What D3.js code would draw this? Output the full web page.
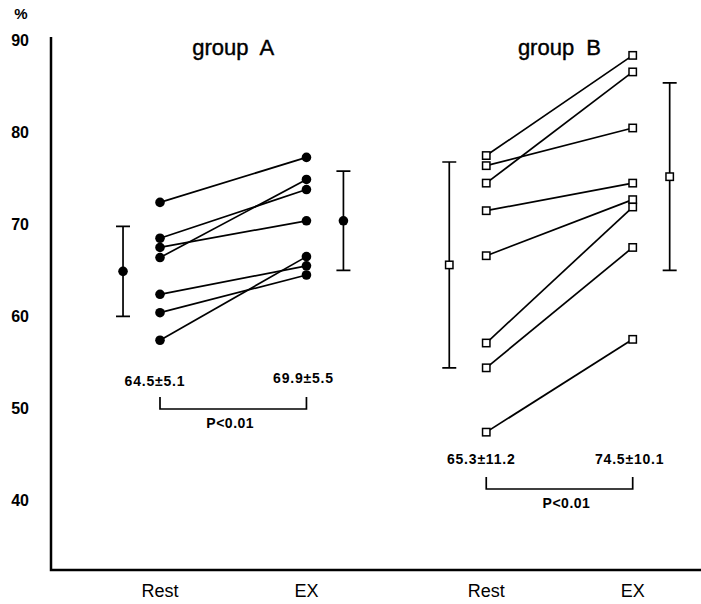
<!DOCTYPE html>
<html>
<head>
<meta charset="utf-8">
<script src="https://cdn.jsdelivr.net/npm/d3@7"></script>
<style>
  body { margin: 0; background: #fff; }
  svg { font-family: 'Liberation Sans', Arial, sans-serif; }
</style>
</head>
<body>
<script>
// values
const yTicks = [40, 50, 60, 70, 80, 90];

const groupARest = [72.4, 68.5, 67.5, 66.4, 62.4, 60.4, 57.4];
const groupAEx   = [77.3, 73.8, 70.4, 74.9, 65.5, 64.5, 66.5];
const groupAMean = [64.9, 70.4];
const groupASd   = [4.9, 5.4];
const groupAStats = ['64.5±5.1', '69.9±5.5'];

const groupBRest = [77.5, 76.4, 74.5, 71.5, 66.6, 57.1, 54.4, 47.4];
const groupBEx   = [88.4, 80.5, 86.6, 74.5, 72.7, 71.9, 67.5, 57.5];
const groupBMean = [65.6, 75.2];
const groupBSd   = [11.2, 10.2];
const groupBStats = ['65.3±11.2', '74.5±10.1'];

const xLabels = ['Rest', 'EX'];
const pLabel = 'P<0.01';

const width = 701;
const height = 604;

const svg = d3.select('body')
    .append('svg')
    .attr('width', width)
    .attr('height', height);

// x in "slots": rest/ex of each group
const x = d3.scaleLinear().domain([0, 1]).range([160, 305]);
const y = d3.scaleLinear().domain([32.4, 90.4]).range([570, 37]);

const groups = [
    {name: 'group A', rest: groupARest, ex: groupAEx, mean: groupAMean, sd: groupASd, stats: groupAStats, slot: 0, marker: 'circle'},
    {name: 'group B', rest: groupBRest, ex: groupBEx, mean: groupBMean, sd: groupBSd, stats: groupBStats, slot: 2.25, marker: 'square'}
];

// y axis with bold labels
const yAxis = d3.axisLeft(y).tickValues(yTicks).tickSize(0).tickPadding(22);
const yg = svg.append('g')
    .attr('transform', 'translate(51,0)')
    .call(yAxis);
yg.select('.domain').remove();
yg.selectAll('text')
    .attr('font-family', "'Liberation Sans', Arial, sans-serif")
    .attr('font-size', 16)
    .attr('font-weight', 'bold')
    .attr('fill', '#000');

svg.append('text')
    .attr('x', 21)
    .attr('y', 19)
    .attr('text-anchor', 'middle')
    .attr('font-size', 15)
    .attr('font-weight', 'bold')
    .text('%');

// axis lines
svg.append('path')
    .attr('d', `M51,${y(90.4)}V${y(32.4)}H${width}`)
    .attr('fill', 'none')
    .attr('stroke', '#000')
    .attr('stroke-width', 2.5);

groups.forEach(g =>
{
    const xr = x(g.slot);
    const xe = x(g.slot + 1.01);

    // title
    svg.append('text')
        .attr('x', (xr + xe) / 2)
        .attr('y', 55)
        .attr('text-anchor', 'middle')
        .attr('font-size', 22)
        .attr('stroke', '#000')
        .attr('stroke-width', 0.4)
        .style('white-space', 'pre')
        .text(g.name.replace(' ', '  '));

    // paired lines
    svg.append('g').selectAll('line')
        .data(g.rest.map((r, i) => [r, g.ex[i]]))
        .join('line')
        .attr('x1', xr).attr('y1', d => y(d[0]))
        .attr('x2', xe).attr('y2', d => y(d[1]))
        .attr('stroke', '#000')
        .attr('stroke-width', 1.7);

    // mean +- sd bars
    const barX = [x(g.slot - 0.255), x(g.slot + 1.01 + 0.255)];
    g.mean.forEach((m, i) =>
    {
        const bx = barX[i];
        const top = y(m + g.sd[i]);
        const bot = y(m - g.sd[i]);
        svg.append('path')
            .attr('d', `M${bx},${top}V${bot}M${bx - 7},${top}H${bx + 7}M${bx - 7},${bot}H${bx + 7}`)
            .attr('fill', 'none')
            .attr('stroke', '#000')
            .attr('stroke-width', 1.7);
    });

    const pts = [];
    g.rest.forEach(v => pts.push([xr, v]));
    g.ex.forEach(v => pts.push([xe, v]));
    g.mean.forEach((m, i) => pts.push([barX[i], m]));

    if (g.marker === 'circle')
    {
        svg.append('g').selectAll('circle')
            .data(pts)
            .join('circle')
            .attr('cx', d => d[0])
            .attr('cy', d => y(d[1]))
            .attr('r', 4.8)
            .attr('fill', '#000');
    }
    else
    {
        svg.append('g').selectAll('rect')
            .data(pts)
            .join('rect')
            .attr('x', d => d[0] - 3.7)
            .attr('y', d => y(d[1]) - 3.7)
            .attr('width', 7.4)
            .attr('height', 7.4)
            .attr('fill', '#fff')
            .attr('stroke', '#000')
            .attr('stroke-width', 1.5);
    }

    // stats text under each column
    const statY = g.slot === 0 ? [386, 383] : [464, 464];
    g.stats.forEach((s, i) =>
    {
        svg.append('text')
            .attr('x', i === 0 ? xr - 5 : xe - 3)
            .attr('y', statY[i])
            .attr('text-anchor', 'middle')
            .attr('font-size', 14)
            .attr('font-weight', 'bold')
            .attr('letter-spacing', 0.8)
            .text(s);
    });

    // significance bracket
    const bTop = g.slot === 0 ? 397 : 477;
    const bBot = bTop + 12;
    svg.append('path')
        .attr('d', `M${xr},${bTop}V${bBot}H${xe}V${bTop}`)
        .attr('fill', 'none')
        .attr('stroke', '#000')
        .attr('stroke-width', 1.7);
    svg.append('text')
        .attr('x', g.slot === 0 ? (xr + xe) / 2 - 3 : (xr + xe) / 2 + 7)
        .attr('y', bBot + 19)
        .attr('text-anchor', 'middle')
        .attr('font-size', 14)
        .attr('font-weight', 'bold')
        .attr('letter-spacing', 0.5)
        .text(pLabel);

    // category labels
    [xr, xe].forEach((px, i) =>
    {
        svg.append('text')
            .attr('x', px)
            .attr('y', 597)
            .attr('text-anchor', 'middle')
            .attr('font-size', 18)
            .text(xLabels[i]);
    });
});
</script>
</body>
</html>
